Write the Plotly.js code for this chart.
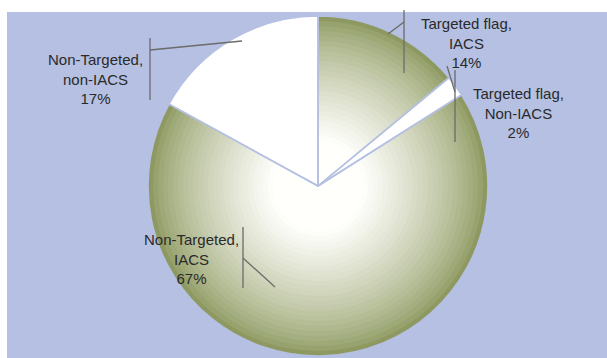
<!DOCTYPE html>
<html>
<head>
<meta charset="utf-8">
<script src="https://cdn.plot.ly/plotly-3.0.1.min.js"></script>
<style>html,body{margin:0;padding:0;background:#fff;}#chart{width:607px;height:358px;}</style>
</head>
<body>
<div id="chart"></div>
<script>
// ---- data ----
const categories = ['Targeted flag, IACS', 'Targeted flag, Non-IACS', 'Non-Targeted, IACS', 'Non-Targeted, non-IACS'];
const labelLines = [['Targeted flag,', 'IACS'], ['Targeted flag,', 'Non-IACS'], ['Non-Targeted,', 'IACS'], ['Non-Targeted,', 'non-IACS']];
const values = [14, 2, 67, 17];
const shaded = [true, false, true, false];

// ---- styling / layout ----
const W = 607, H = 358;
const BG = '#b5c0e2';
const cx = 318, cy = 186, R = 170;
const edge = [141, 153, 96], centre = [255, 255, 252];
const nLayers = 34;
const labelPos = [[467, 43], [518, 113], [192, 259], [95, 79]];
const leaders = [
  [[404, 10, 404, 73], [404, 22, 388, 34]],
  [[455, 70, 455, 142], [455, 92, 447, 66]],
  [[243, 227, 243, 288], [243, 258, 275, 287]],
  [[150, 38, 150, 100], [150, 50, 242, 41]]
];

function mix(t) {
  const c = edge.map((e, i) => Math.round(e + (centre[i] - e) * t));
  return 'rgb(' + c.join(',') + ')';
}

function domainFor(r) {
  return {x: [(cx - r) / W, (cx + r) / W], y: [(H - cy - r) / H, (H - cy + r) / H]};
}

const traces = [];
for (let k = 0; k < nLayers; k++) {
  const f = 1 - k / nLayers;
  const t = Math.pow(Math.min(1, (1 - f) / 0.72), 0.75);
  const col = mix(t);
  traces.push({
    type: 'pie', labels: categories, values: values,
    sort: false, direction: 'clockwise', rotation: 0,
    textinfo: 'none', hoverinfo: 'skip', showlegend: false,
    marker: {colors: shaded.map(s => s ? col : '#ffffff'), line: {width: 0}},
    domain: domainFor(R * f)
  });
}
// slice separators on top
traces.push({
  type: 'pie', labels: categories, values: values,
  sort: false, direction: 'clockwise', rotation: 0,
  textinfo: 'none', hoverinfo: 'label+percent', showlegend: false,
  marker: {colors: categories.map(() => 'rgba(0,0,0,0)'), line: {color: BG, width: 1.6}},
  domain: domainFor(R)
});

const total = values.reduce((a, b) => a + b, 0);
const annotations = categories.map((c, i) => ({
  text: labelLines[i].join('<br>') + '<br>' + Math.round(values[i] / total * 100) + '%',
  x: labelPos[i][0] / W, y: 1 - labelPos[i][1] / H,
  xref: 'paper', yref: 'paper', xanchor: 'center', yanchor: 'middle',
  showarrow: false, align: 'center',
  font: {family: 'Liberation Sans, Arial, sans-serif', size: 15, color: '#2a2a2a'}
}));

const shapes = [{
  type: 'rect', xref: 'paper', yref: 'paper', layer: 'below',
  x0: 7 / W, x1: 1, y0: 0, y1: 1 - 12 / H,
  fillcolor: BG, line: {width: 0}
}];
leaders.forEach(seg => seg.forEach(s => shapes.push({
  type: 'line', xref: 'paper', yref: 'paper',
  x0: s[0] / W, y0: 1 - s[1] / H, x1: s[2] / W, y1: 1 - s[3] / H,
  line: {color: '#6b6b6b', width: 1.3}
})));

Plotly.newPlot('chart', traces, {
  width: W, height: H,
  margin: {l: 0, r: 0, t: 0, b: 0},
  paper_bgcolor: '#ffffff',
  showlegend: false,
  annotations: annotations,
  shapes: shapes
}, {displayModeBar: false, staticPlot: true});
</script>
</body>
</html>
